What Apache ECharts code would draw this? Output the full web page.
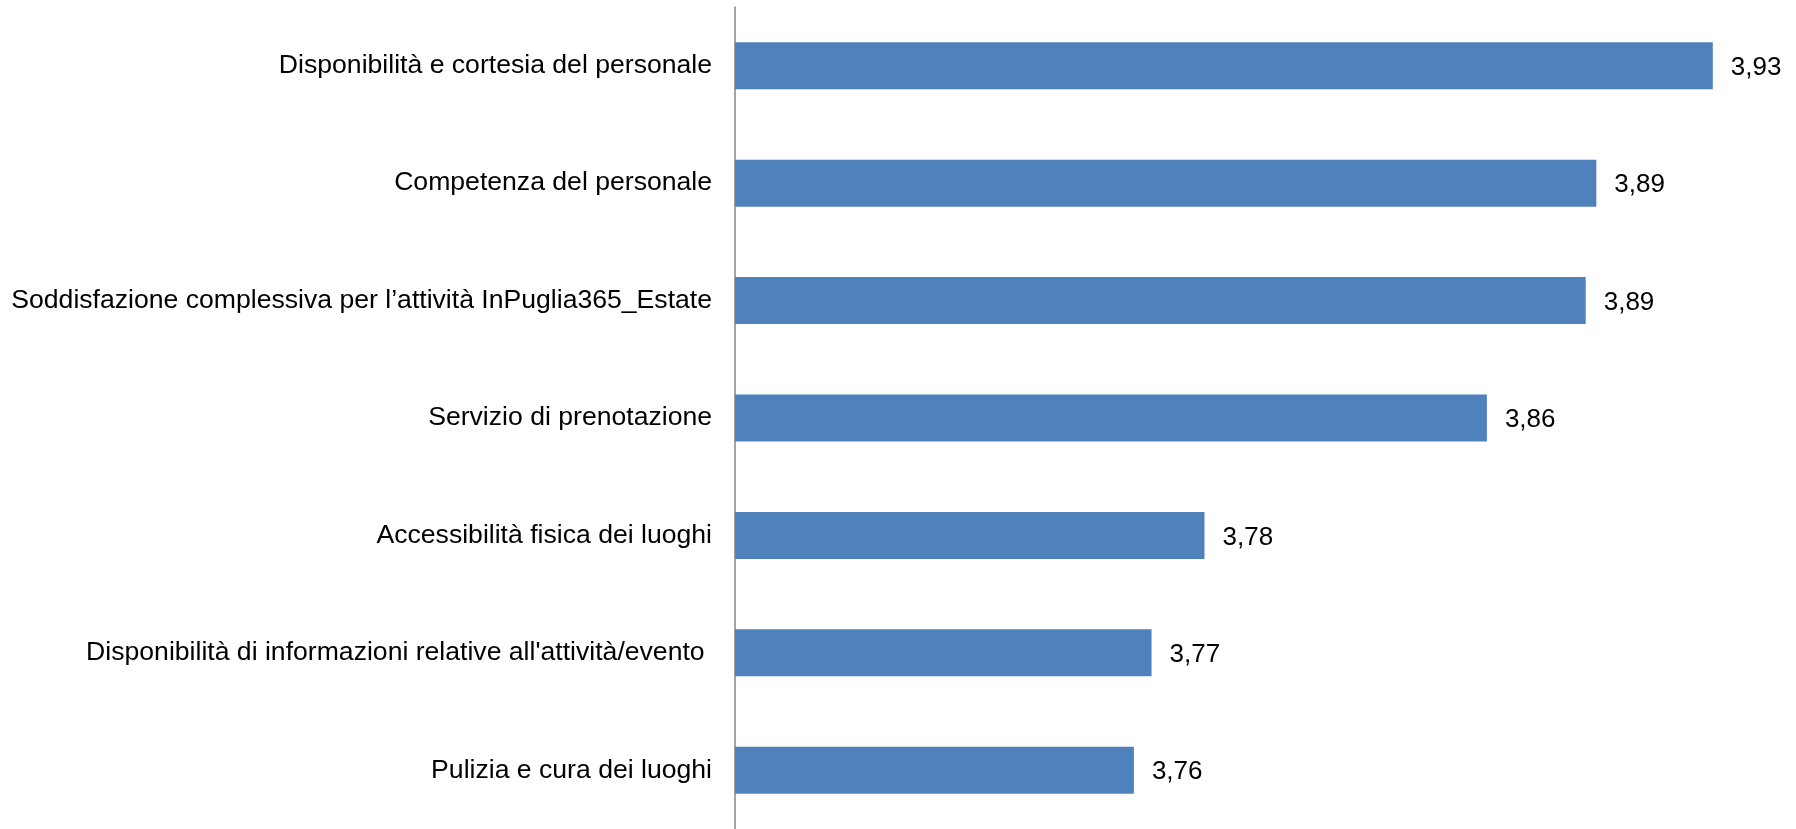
<!DOCTYPE html>
<html>
<head>
<meta charset="utf-8">
<script src="https://cdn.jsdelivr.net/npm/echarts@6/dist/echarts.min.js"></script>
<style>
html,body{margin:0;padding:0;background:#fff;}
#chart{width:1796px;height:829px;}
</style>
</head>
<body>
<div id="chart"></div>
<script>
const categories = [
  "Disponibilità e cortesia del personale",
  "Competenza del personale",
  "Soddisfazione complessiva per l\u2019attività InPuglia365_Estate",
  "Servizio di prenotazione",
  "Accessibilità fisica dei luoghi",
  "Disponibilità di informazioni relative all'attività/evento ",
  "Pulizia e cura dei luoghi"
];
const values = [3.927, 3.894, 3.891, 3.863, 3.783, 3.768, 3.763];
const axisMin = 3.65;
const axisMax = 3.95;

const chart = echarts.init(document.getElementById('chart'), null, {renderer: 'canvas'});
chart.setOption({
  animation: false,
  backgroundColor: '#ffffff',
  grid: {left: 735, right: 2, top: 7, bottom: -2, containLabel: false},
  xAxis: {
    type: 'value', min: axisMin, max: axisMax,
    show: false
  },
  yAxis: {
    type: 'category', data: categories, inverse: true,
    axisLine: {show: true, lineStyle: {color: '#868686', width: 1.5}},
    axisTick: {show: false},
    axisLabel: {
      color: '#000', fontFamily: 'Liberation Sans, Arial, sans-serif',
      fontSize: 26.6, margin: 23, padding: [2, 0, 0, 0]
    },
    splitLine: {show: false}
  },
  series: [{
    type: 'bar',
    data: values,
    barWidth: '40%',
    itemStyle: {color: '#4F81BD'},
    label: {
      show: true, position: 'right', distance: 18, offset: [0, 2],
      color: '#000', fontFamily: 'Liberation Sans, Arial, sans-serif', fontSize: 26,
      formatter: p => p.value.toFixed(2).replace('.', ',')
    }
  }]
});
</script>
</body>
</html>
